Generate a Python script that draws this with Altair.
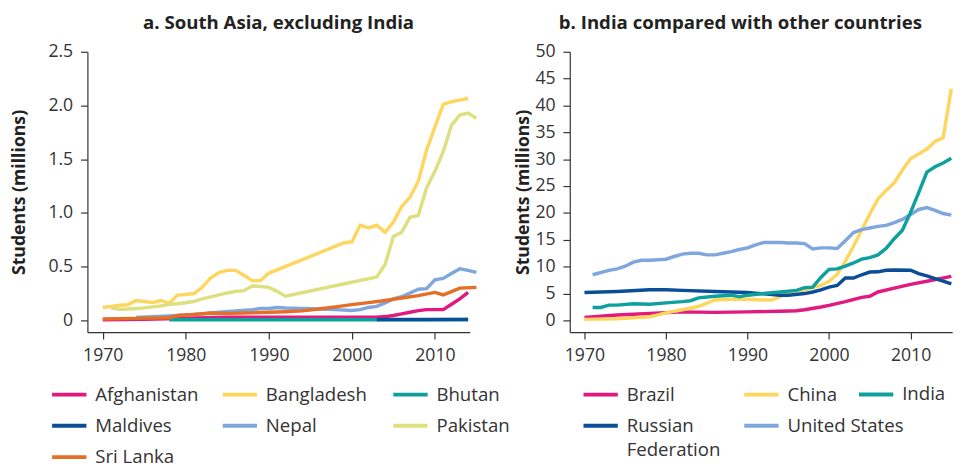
import altair as alt
import pandas as pd

FONT = "Open Sans"

# ---------------- Panel a: South Asia, excluding India ----------------
afg_years = [1970, 1975, 1980, 1985, 1990, 1995, 2000, 2003, 2004, 2005, 2006, 2007, 2008, 2009, 2010, 2011, 2012, 2013, 2014]
afg_vals = [0.005, 0.01, 0.02, 0.03, 0.03, 0.03, 0.03, 0.03, 0.035, 0.045, 0.06, 0.075, 0.09, 0.1, 0.1, 0.1, 0.15, 0.2, 0.26]

ban_years = [1970, 1971, 1972, 1973, 1974, 1975, 1976, 1977, 1978, 1979, 1980, 1981, 1982, 1983, 1984, 1985, 1986,
             1987, 1988, 1989, 1990, 1991, 1999, 2000, 2001, 2002, 2003, 2004, 2005, 2006, 2007, 2008, 2009, 2010,
             2011, 2012, 2013, 2014]
ban_vals = [0.12, 0.13, 0.14, 0.145, 0.185, 0.175, 0.165, 0.185, 0.16, 0.235, 0.24, 0.25, 0.31, 0.395, 0.445, 0.465,
            0.465, 0.42, 0.37, 0.37, 0.44, 0.47, 0.72, 0.73, 0.885, 0.86, 0.885, 0.82, 0.915, 1.06, 1.145, 1.295,
            1.585, 1.8, 2.01, 2.035, 2.05, 2.065]

bhu_years = [1978, 1985, 1990, 1995, 2000, 2003, 2008, 2014]
bhu_vals = [0.005, 0.005, 0.005, 0.005, 0.005, 0.005, 0.006, 0.007]

mdv_years = [2003, 2006, 2010, 2014]
mdv_vals = [0.008, 0.008, 0.008, 0.008]

nep_years = [1974, 1976, 1978, 1980, 1982, 1984, 1986, 1988, 1989, 1990, 1991, 1992, 1994, 1996, 1998, 2000, 2001,
             2002, 2003, 2004, 2005, 2006, 2007, 2008, 2009, 2010, 2011, 2012, 2013, 2014, 2015]
nep_vals = [0.027, 0.033, 0.04, 0.05, 0.06, 0.075, 0.088, 0.1, 0.11, 0.11, 0.12, 0.115, 0.11, 0.105, 0.1, 0.092, 0.1,
            0.12, 0.13, 0.163, 0.2, 0.22, 0.255, 0.29, 0.295, 0.378, 0.39, 0.436, 0.48, 0.465, 0.447]

pak_years = [1971, 1972, 1973, 1974, 1975, 1976, 1977, 1978, 1979, 1980, 1981, 1982, 1983, 1984, 1985, 1986, 1987,
             1988, 1989, 1990, 1991, 1992, 2003, 2004, 2005, 2006, 2007, 2008, 2009, 2010, 2011, 2012, 2013, 2014,
             2015]
pak_vals = [0.116, 0.104, 0.105, 0.11, 0.116, 0.125, 0.135, 0.149, 0.155, 0.164, 0.176, 0.2, 0.218, 0.237, 0.255,
            0.27, 0.276, 0.32, 0.315, 0.307, 0.27, 0.225, 0.404, 0.52, 0.78, 0.82, 0.96, 0.976, 1.235, 1.387, 1.57,
            1.818, 1.91, 1.93, 1.88]

sri_years = [1970, 1974, 1978, 1979, 1980, 1981, 1983, 1985, 1987, 1989, 1992, 1994, 1996, 1998, 2000, 2002, 2004,
             2006, 2008, 2010, 2011, 2012, 2013, 2015]
sri_vals = [0.012, 0.018, 0.024, 0.045, 0.05, 0.055, 0.068, 0.065, 0.068, 0.073, 0.08, 0.088, 0.105, 0.125, 0.146,
            0.165, 0.185, 0.208, 0.23, 0.26, 0.237, 0.268, 0.3, 0.307]

a_countries = ["Afghanistan", "Bangladesh", "Bhutan", "Maldives", "Nepal", "Pakistan", "Sri Lanka"]
a_colors = ["#E2197F", "#FED65E", "#0EA09C", "#0A4E98", "#7FA7DD", "#DDE07E", "#E46F26"]
a_series = [(afg_years, afg_vals), (ban_years, ban_vals), (bhu_years, bhu_vals), (mdv_years, mdv_vals),
            (nep_years, nep_vals), (pak_years, pak_vals), (sri_years, sri_vals)]

# ---------------- Panel b: India compared with other countries ----------------
bra_years = [1970, 1974, 1978, 1982, 1986, 1990, 1994, 1996, 1997, 1999, 2000, 2002, 2004, 2005, 2006, 2008, 2010,
             2012, 2015]
bra_vals = [0.55, 1.0, 1.3, 1.6, 1.5, 1.6, 1.7, 1.8, 2.0, 2.5, 2.8, 3.5, 4.3, 4.5, 5.3, 6.0, 6.7, 7.3, 8.2]

chn_years = [1970, 1974, 1978, 1979, 1980, 1982, 1984, 1985, 1986, 1988, 1990, 1992, 1993, 1994, 1995, 1997, 1999,
             2000, 2001, 2002, 2003, 2004, 2005, 2006, 2007, 2008, 2009, 2010, 2011, 2012, 2013, 2014, 2015]
chn_vals = [0.2, 0.3, 0.7, 1.05, 1.4, 2.0, 2.6, 3.2, 3.8, 3.95, 3.95, 3.8, 3.8, 4.4, 5.3, 5.7, 6.5, 7.3, 8.6, 11.0,
            13.8, 16.8, 19.8, 22.6, 24.2, 25.6, 28.0, 30.1, 31.0, 31.9, 33.3, 34.0, 43.1]

ind_years = [1971, 1972, 1973, 1974, 1976, 1978, 1980, 1982, 1983, 1984, 1986, 1988, 1989, 1990, 1992, 1994, 1996,
             1997, 1998, 1999, 2000, 2001, 2002, 2003, 2004, 2005, 2006, 2007, 2008, 2009, 2010, 2011, 2012, 2013,
             2014, 2015]
ind_vals = [2.42, 2.42, 2.85, 2.85, 3.1, 3.0, 3.27, 3.5, 3.67, 4.2, 4.5, 4.7, 4.4, 4.7, 5.0, 5.3, 5.6, 6.1, 6.2, 8.0,
            9.5, 9.6, 10.1, 10.7, 11.4, 11.7, 12.2, 13.4, 15.2, 16.8, 20.1, 23.8, 27.6, 28.6, 29.3, 30.2]

rus_years = [1970, 1974, 1978, 1980, 1982, 1986, 1990, 1992, 1994, 1995, 1997, 1998, 1999, 2000, 2001, 2002, 2003,
             2004, 2005, 2006, 2007, 2008, 2010, 2011, 2012, 2013, 2014, 2015]
rus_vals = [5.2, 5.4, 5.7, 5.7, 5.6, 5.4, 5.2, 4.95, 4.7, 4.7, 5.0, 5.3, 5.7, 6.2, 6.5, 7.9, 7.9, 8.5, 9.0, 9.05,
            9.35, 9.4, 9.35, 8.7, 8.3, 7.8, 7.3, 6.8]

usa_years = [1971, 1973, 1974, 1975, 1976, 1977, 1978, 1980, 1981, 1982, 1983, 1984, 1985, 1986, 1987, 1988, 1989,
             1990, 1991, 1992, 1993, 1994, 1995, 1996, 1997, 1998, 1999, 2000, 2001, 2002, 2003, 2004, 2005, 2006,
             2007, 2008, 2009, 2010, 2011, 2012, 2013, 2014, 2015]
usa_vals = [8.5, 9.33, 9.6, 10.1, 10.85, 11.2, 11.2, 11.4, 11.9, 12.35, 12.5, 12.5, 12.2, 12.2, 12.5, 12.8, 13.2,
            13.5, 14.05, 14.5, 14.5, 14.5, 14.4, 14.4, 14.3, 13.3, 13.5, 13.5, 13.4, 14.85, 16.35, 16.9, 17.2, 17.5,
            17.7, 18.2, 18.8, 19.7, 20.65, 21.0, 20.5, 19.9, 19.6]

b_countries = ["Brazil", "China", "Russian Federation", "United States"]
b_colors = ["#E2197F", "#FED65E", "#0A4E98", "#7FA7DD"]
b_series = [(bra_years, bra_vals), (chn_years, chn_vals), (rus_years, rus_vals), (usa_years, usa_vals)]
india_name = ["India"]
india_color = ["#0EA09C"]

x_ticks = [1970, 1980, 1990, 2000, 2010]
a_yticks = [0, 0.5, 1.0, 1.5, 2.0, 2.5]
b_yticks = [0, 5, 10, 15, 20, 25, 30, 35, 40, 45, 50]

W, H = 390, 286
LEG_Y = 330


def frame(countries, series):
    rows = []
    for name, (ys, vs) in zip(countries, series):
        for y, v in zip(ys, vs):
            rows.append({"country": name, "year": y, "value": v})
    return pd.DataFrame(rows)


def legend(x, y, columns, col_pad, grid_align, label_expr="datum.label"):
    return alt.Legend(
        title=None, orient="none", legendX=x, legendY=y, columns=columns, direction="horizontal",
        symbolType="stroke", symbolStrokeWidth=4, symbolSize=1225, labelFontSize=19, labelFont=FONT,
        labelColor="#333333", columnPadding=col_pad, rowPadding=2, labelOffset=7, labelLimit=250,
        labelExpr=label_expr, labelBaseline="middle", gridAlign=grid_align,
    )


def lines(df, countries, colors, xdom, ydom, yticks, ylabel_expr, title_pad, leg):
    return alt.Chart(df).mark_line(strokeWidth=3.5, clip=False).encode(
        x=alt.X("year:Q", scale=alt.Scale(domain=xdom, nice=False, zero=False),
                axis=alt.Axis(values=x_ticks, format="d", title=None, grid=False)),
        y=alt.Y("value:Q", scale=alt.Scale(domain=ydom, nice=False, zero=False),
                axis=alt.Axis(values=yticks, labelExpr=ylabel_expr, title="Students (millions)", grid=False,
                              titlePadding=title_pad)),
        color=alt.Color("country:N", scale=alt.Scale(domain=countries, range=colors), legend=leg),
    )


def title(text, dx):
    return alt.TitleParams(text, fontSize=19, fontWeight="bold", font=FONT, color="#222222",
                           anchor="middle", frame="group", offset=10, dx=dx)


left = lines(frame(a_countries, a_series), a_countries, a_colors, [1968.15, 2014.2], [-0.11, 2.5], a_yticks,
             "datum.value == 0 ? '0' : format(datum.value, '.1f')", 20,
             legend(-38, LEG_Y, 3, 16, "all")).properties(width=W, height=H,
                                                          title=title("a. South Asia, excluding India", 0))

b_xdom = [1968.2, 2015.1]
b_ydom = [-2.18, 50]
b_ylab = "format(datum.value, 'd')"
right_main = lines(frame(b_countries, b_series), b_countries, b_colors, b_xdom, b_ydom, b_yticks, b_ylab, 2,
                   legend(12, LEG_Y, 2, 16, "each",
                          "datum.label == 'Russian Federation' ? ['Russian', 'Federation'] : datum.label"))
right_india = lines(frame(india_name, [(ind_years, ind_vals)]), india_name, india_color, b_xdom, b_ydom, b_yticks,
                    b_ylab, 2, legend(293, LEG_Y, 1, 10, "each"))
right = alt.layer(right_main, right_india).resolve_scale(color="independent").properties(
    width=390, height=H, title=title("b. India compared with other countries", -21))

chart = alt.hconcat(left, right, spacing=5).resolve_scale(color="independent").resolve_legend(
    color="independent"
).properties(padding={"left": 2, "top": 2, "right": 0, "bottom": 0}).configure(
    style={"guide-label": {"lineHeight": 25}}
).configure_view(stroke=None).configure_axis(
    labelFont=FONT, labelFontSize=18, labelColor="#333333", domainColor="#333333", tickColor="#333333",
    tickSize=7, domainWidth=1.2, tickWidth=1.2, labelPadding=8, titleFont=FONT, titleFontSize=18,
    titleFontWeight="bold", titleColor="#222222",
)

chart.save("out.html", embed_options={"renderer": "svg", "actions": False})
